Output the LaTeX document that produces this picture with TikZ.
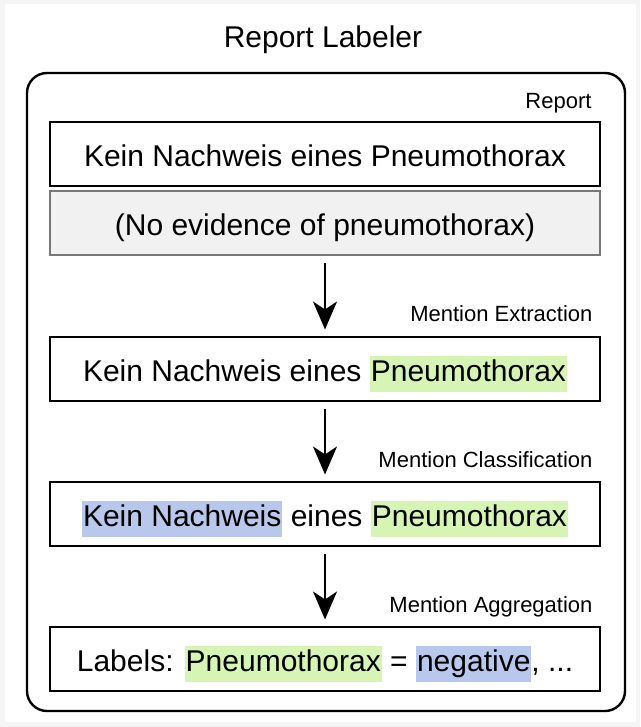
\documentclass[tikz,border=0pt]{standalone}
\usepackage{fontspec}
\setmainfont{Liberation Sans}
\usetikzlibrary{arrows.meta, positioning}
\definecolor{hlgreen}{RGB}{214,245,180}
\definecolor{hlblue}{RGB}{184,200,236}
\definecolor{srcgray}{RGB}{241,241,241}
\definecolor{srcedge}{RGB}{120,120,120}
\newcommand{\hlmark}[2]{{\setlength{\fboxsep}{0pt}\colorbox{#1}{\strut\hspace{1pt}#2\hspace{1pt}}}}

\begin{document}
\begin{tikzpicture}[x=1pt, y=-1pt,
  textbox/.style={draw, line width=2pt, minimum width=550pt, minimum height=64pt, inner sep=0pt,
    text height=30pt, text depth=5pt, font=\fontsize{30}{36}\selectfont},
  steplabel/.style={anchor=base east, font=\fontsize{22}{26}\selectfont},
  flow/.style={-{Stealth[length=28pt, width=24pt, inset=8pt]}, line width=2.4pt, shorten <=7pt, shorten >=6pt}]
  \useasboundingbox (0,0) rectangle (640,727);
  \fill[gray!8] (0,0) rectangle (640,727);
  \fill[white] (5,4) rectangle (636,722);

  % title and outer frame
  \node[font=\fontsize{30}{36}\selectfont] (title) at (323,40) {Report Labeler};
  \node[draw, line width=2.4pt, rounded corners=20pt, minimum width=598pt, minimum height=638pt] (labeler) at (326,392) {};

  % report
  \node[steplabel] (reportlbl) at (595,109) {Report};
  \node[textbox] (german) at (325,154.5) {Kein Nachweis eines Pneumothorax};
  \node[textbox, draw=srcedge, fill=srcgray] (english) at (325,223) {(No evidence of pneumothorax)};

  % mention extraction
  \node[steplabel] (extractlbl) at (596,321) {Mention Extraction};
  \node[textbox] (extracted) at (325,368.5) {Kein Nachweis eines \hlmark{hlgreen}{Pneumothorax}};

  % mention classification
  \node[steplabel] (classifylbl) at (596,467) {Mention Classification};
  \node[textbox] (classified) at (325,513.5) {\hlmark{hlblue}{Kein Nachweis} eines \hlmark{hlgreen}{Pneumothorax}};

  % mention aggregation
  \node[steplabel] (aggregatelbl) at (596,612) {Mention Aggregation};
  \node[textbox] (labels) at (325,658.5) {Labels: \hlmark{hlgreen}{Pneumothorax} = \hlmark{hlblue}{negative}, ...};

  \draw[flow] (english) -- (extracted);
  \draw[flow] (extracted) -- (classified);
  \draw[flow] (classified) -- (labels);
\end{tikzpicture}
\end{document}
